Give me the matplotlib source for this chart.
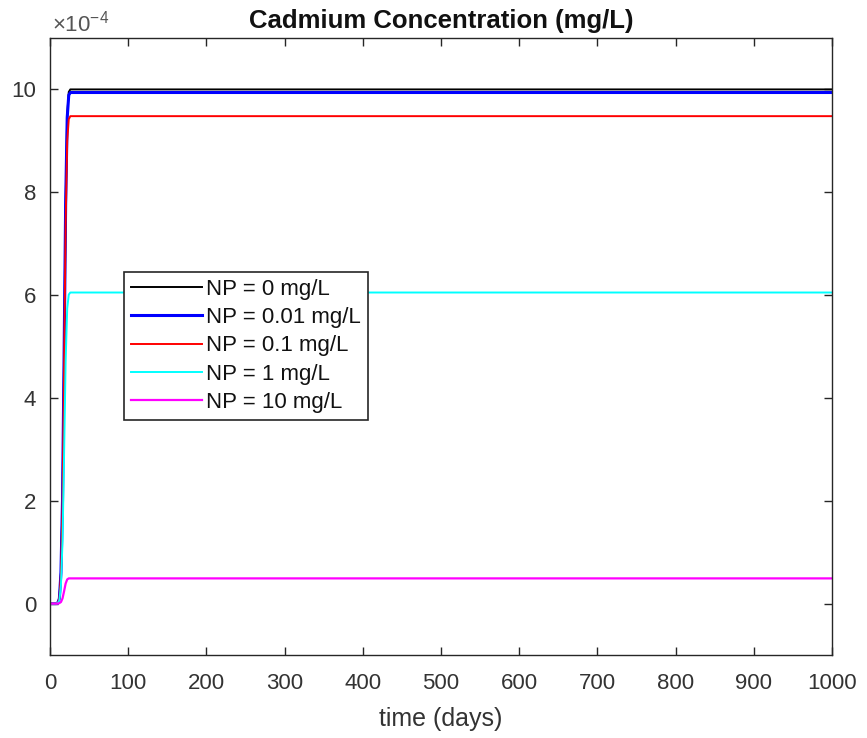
import matplotlib
matplotlib.use("Agg")
import matplotlib.pyplot as plt
from matplotlib.ticker import FuncFormatter

plt.rcParams['font.family'] = ['Liberation Sans', 'DejaVu Sans']
plt.rcParams['mathtext.fontset'] = 'custom'
plt.rcParams['mathtext.rm'] = 'Liberation Sans'

# Simulated cadmium concentration (mg/L) over time for several nanoparticle doses
time_days = [0, 8, 10, 12, 14, 16, 18, 20, 22, 24, 26, 30, 1000]

cd_np0 = [0, 0, 0.01e-4, 0.10e-4, 0.60e-4, 2.00e-4, 4.80e-4, 7.80e-4, 9.50e-4, 9.95e-4, 10.00e-4, 10.00e-4, 10.00e-4]
cd_np001 = [0, 0, 0.01e-4, 0.10e-4, 0.60e-4, 2.00e-4, 4.78e-4, 7.76e-4, 9.45e-4, 9.89e-4, 9.94e-4, 9.94e-4, 9.94e-4]
cd_np01 = [0, 0, 0.01e-4, 0.10e-4, 0.57e-4, 1.90e-4, 4.55e-4, 7.40e-4, 9.00e-4, 9.42e-4, 9.48e-4, 9.48e-4, 9.48e-4]
cd_np1 = [0, 0, 0.01e-4, 0.06e-4, 0.36e-4, 1.21e-4, 2.90e-4, 4.71e-4, 5.74e-4, 6.01e-4, 6.05e-4, 6.05e-4, 6.05e-4]
cd_np10 = [0, 0, 0.00e-4, 0.01e-4, 0.03e-4, 0.10e-4, 0.24e-4, 0.39e-4, 0.47e-4, 0.49e-4, 0.49e-4, 0.49e-4, 0.49e-4]

labels = ['NP = 0 mg/L', 'NP = 0.01 mg/L', 'NP = 0.1 mg/L', 'NP = 1 mg/L', 'NP = 10 mg/L']
colors = ['#000000', '#0000ff', '#ff0000', '#00ffff', '#ff00ff']
widths = [1.4, 2.2, 1.4, 1.4, 1.6]
series = [cd_np0, cd_np001, cd_np01, cd_np1, cd_np10]

x_ticks = [0, 100, 200, 300, 400, 500, 600, 700, 800, 900, 1000]
y_ticks = [0, 2e-4, 4e-4, 6e-4, 8e-4, 10e-4]

fig = plt.figure(figsize=(8.67, 7.38), dpi=100)
ax = fig.add_axes([50/867, 1 - 655/738, 782/867, 617/738])

for vals, lab, col, lw in zip(series, labels, colors, widths):
    ax.plot(time_days, vals, color=col, lw=lw, label=lab)

ax.set_xlim(0, 1000)
ax.set_ylim(-1e-4, 11e-4)
ax.set_xticks(x_ticks)
ax.set_yticks(y_ticks)
ax.yaxis.set_major_formatter(FuncFormatter(lambda v, p: f"{v/1e-4:.0f}"))

axis_col = '#262626'
text_col = '#333333'
for s in ax.spines.values():
    s.set_color(axis_col)
    s.set_linewidth(1.0)
ax.tick_params(direction='in', length=6, width=1.0, color=axis_col,
               labelcolor=text_col, labelsize=16, top=True, right=True)
ax.tick_params(axis='x', pad=13)
ax.tick_params(axis='y', pad=10)

ax.set_xlabel('time (days)', fontsize=18, color=text_col, labelpad=9)
ax.set_title('Cadmium Concentration (mg/L)', fontsize=18.5, fontweight='bold',
             color='#111111', pad=7)
ax.text(0.002, 1.01, r'$\times10^{-4}$', transform=ax.transAxes, fontsize=16,
        color='#555555', ha='left', va='baseline')

leg = ax.legend(loc='upper left', bbox_to_anchor=(74/782, (655 - 272)/617),
                prop={'size': 16}, frameon=True, fancybox=False, handlelength=3.2,
                handletextpad=0.2, labelspacing=0.33, borderpad=0.3,
                borderaxespad=0)
leg.get_frame().set_edgecolor(axis_col)
leg.get_frame().set_linewidth(1.2)
leg.get_frame().set_alpha(1)
for t in leg.get_texts():
    t.set_color('#111111')

fig.savefig('out.png', dpi=100, facecolor='white')
